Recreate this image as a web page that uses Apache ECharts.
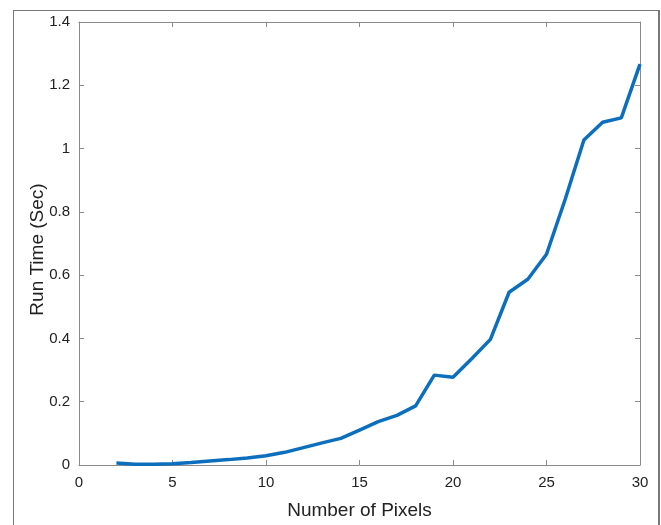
<!DOCTYPE html>
<html>
<head>
<meta charset="utf-8">
<script src="https://cdn.jsdelivr.net/npm/echarts@6/dist/echarts.min.js"></script>
<style>
  html, body { margin: 0; padding: 0; background: #fff; }
  #frame { position: absolute; left: 13px; top: 10px; width: 644px; height: 530px;
    border-left: 1px solid #777; border-top: 1px solid #777; border-right: 2px solid #777; }
  #chart { position: absolute; left: 0; top: 0; width: 661px; height: 525px; }
</style>
</head>
<body>
<div id="frame"></div>
<div id="chart"></div>
<script>
// number of pixels (x) and run time in seconds (y)
var pixels = [2, 3, 4, 5, 6, 7, 8, 9, 10, 11, 12, 13, 14, 15, 16, 17, 18, 19, 20, 21, 22, 23, 24, 25, 26, 27, 28, 29, 30];
var runTime = [0.006, 0.002, 0.002, 0.004, 0.008, 0.013, 0.017, 0.022, 0.029, 0.04, 0.055, 0.07, 0.084, 0.11, 0.137, 0.157, 0.187, 0.284, 0.277, 0.336, 0.397, 0.546, 0.587, 0.666, 0.84, 1.027, 1.083, 1.097, 1.267];

var axisGray = '#8a8a8a';
var labelFont = { color: '#222', fontSize: 15, fontFamily: 'Liberation Sans, Arial' };
var nameFont = { color: '#222', fontSize: 19, fontFamily: 'Liberation Sans, Arial' };

var chart = echarts.init(document.getElementById('chart'));

var points = pixels.map(function (p, i) { return [p, runTime[i]]; });

// matlab style box: axis line on every side, ticks pointing into the plot
function boxAxis(extra) {
  var base = {
    type: 'value',
    axisLine: { show: true, onZero: false, lineStyle: { color: axisGray, width: 1 } },
    axisTick: { show: true, inside: true, length: 5, lineStyle: { color: axisGray } },
    splitLine: { show: false }
  };
  return Object.assign(base, extra);
}

chart.setOption({
  animation: false,
  grid: { left: 79, right: 21, top: 22, bottom: 59, containLabel: false },
  xAxis: [
    boxAxis({
      position: 'bottom', min: 0, max: 30, interval: 5,
      name: 'Number of Pixels', nameLocation: 'middle', nameGap: 36,
      nameTextStyle: nameFont,
      axisLabel: Object.assign({ margin: 10 }, labelFont)
    }),
    boxAxis({ position: 'top', min: 0, max: 30, interval: 5, axisLabel: { show: false } })
  ],
  yAxis: [
    boxAxis({
      position: 'left', min: 0, max: 1.4, interval: 0.2,
      name: 'Run Time (Sec)', nameLocation: 'middle', nameGap: 32, nameMoveOverlap: false,
      nameTextStyle: Object.assign({ padding: [0, 12, 0, 0] }, nameFont),
      axisLabel: Object.assign({ margin: 9, formatter: function (v) { return String(+v.toFixed(1)); } }, labelFont)
    }),
    boxAxis({ position: 'right', min: 0, max: 1.4, interval: 0.2, axisLabel: { show: false } })
  ],
  series: [{
    type: 'line',
    data: points,
    showSymbol: false,
    lineStyle: { color: '#0c6fbd', width: 3.5 },
    itemStyle: { color: '#0c6fbd' }
  }]
});
</script>
</body>
</html>
